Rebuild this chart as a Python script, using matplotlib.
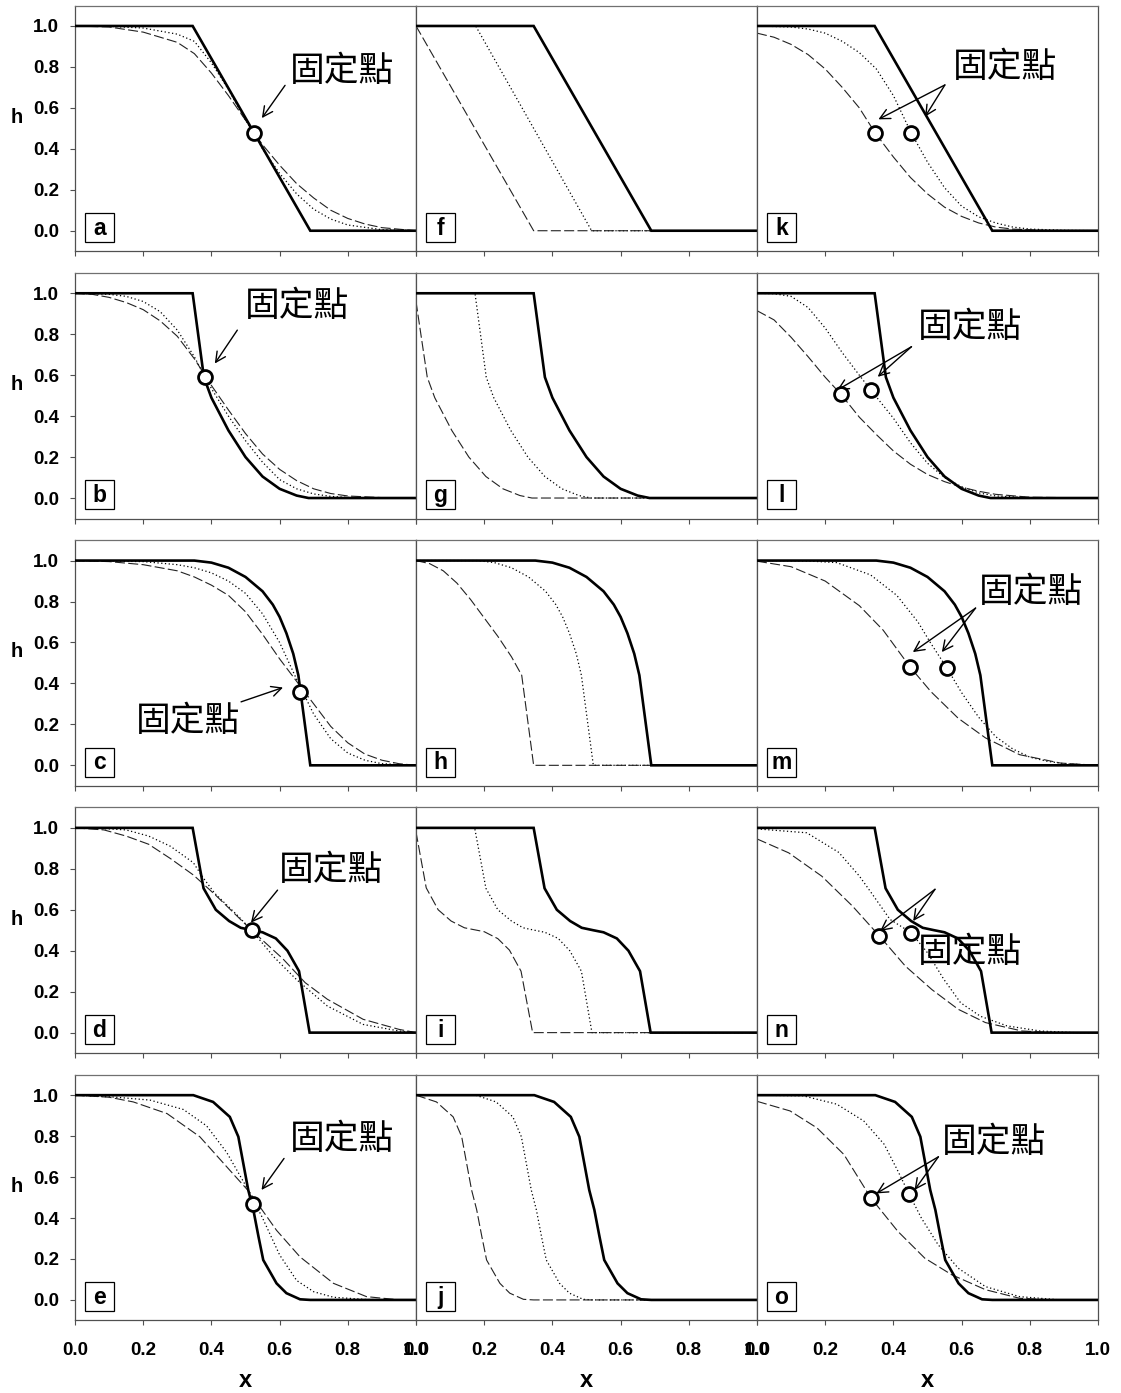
import matplotlib.pyplot as plt
from matplotlib.patches import Rectangle
import numpy as np

plt.rcParams['font.family'] = ['Liberation Sans', 'Noto Sans CJK TC', 'DejaVu Sans']

# ---- curve data, (x, h) pairs ----
# solid curve, one per row (same in all three columns)
solid_1 = [(0, 1), (0.345, 1), (0.69, 0), (1, 0)]
solid_2 = [(0, 1), (0.345, 1), (0.378, 0.59), (0.40, 0.49), (0.45, 0.33), (0.50, 0.20),
           (0.55, 0.105), (0.60, 0.045), (0.65, 0.012), (0.685, 0), (1, 0)]
solid_3 = [(0, 1), (0.35, 1), (0.40, 0.99), (0.45, 0.965), (0.50, 0.92), (0.55, 0.85),
           (0.58, 0.785), (0.60, 0.725), (0.62, 0.645), (0.64, 0.545), (0.655, 0.44),
           (0.69, 0), (1, 0)]
solid_4 = [(0, 1), (0.345, 1), (0.377, 0.705), (0.413, 0.60), (0.452, 0.545), (0.486, 0.512),
           (0.52, 0.50), (0.55, 0.49), (0.589, 0.46), (0.623, 0.40), (0.657, 0.30),
           (0.688, 0), (1, 0)]
solid_5 = [(0, 1), (0.347, 1), (0.405, 0.967), (0.454, 0.894), (0.479, 0.797), (0.508, 0.537),
           (0.523, 0.44), (0.538, 0.31), (0.552, 0.195), (0.591, 0.081), (0.62, 0.033),
           (0.66, 0.003), (0.69, 0), (1, 0)]

# left column
a_dot = [(0, 1), (0.1, 0.998), (0.2, 0.99), (0.3, 0.96), (0.35, 0.925), (0.4, 0.82), (0.45, 0.69),
         (0.5, 0.54), (0.525, 0.477), (0.55, 0.40), (0.6, 0.28), (0.65, 0.18), (0.7, 0.105),
         (0.75, 0.057), (0.8, 0.028), (0.9, 0.005), (1, 0)]
a_dash = [(0, 1), (0.1, 0.995), (0.2, 0.97), (0.3, 0.92), (0.35, 0.865), (0.4, 0.77), (0.45, 0.66),
          (0.5, 0.54), (0.525, 0.477), (0.55, 0.42), (0.6, 0.32), (0.65, 0.23), (0.7, 0.16),
          (0.75, 0.10), (0.8, 0.06), (0.85, 0.033), (0.9, 0.015), (1, 0)]
b_dot = [(0, 1), (0.1, 0.995), (0.15, 0.985), (0.2, 0.96), (0.25, 0.91), (0.3, 0.82), (0.35, 0.69),
         (0.381, 0.592), (0.4, 0.535), (0.45, 0.40), (0.5, 0.28), (0.55, 0.175), (0.6, 0.09),
         (0.65, 0.045), (0.7, 0.02), (0.75, 0.008), (0.8, 0.003), (0.9, 0.001), (1, 0)]
b_dash = [(0, 1), (0.05, 0.995), (0.1, 0.98), (0.15, 0.955), (0.2, 0.92), (0.25, 0.865), (0.3, 0.79),
          (0.35, 0.68), (0.381, 0.6), (0.4, 0.55), (0.45, 0.43), (0.5, 0.315), (0.55, 0.215),
          (0.6, 0.14), (0.65, 0.085), (0.7, 0.045), (0.75, 0.022), (0.8, 0.01), (0.9, 0.002), (1, 0)]
c_dot = [(0, 1), (0.2, 0.995), (0.3, 0.98), (0.35, 0.965), (0.4, 0.94), (0.45, 0.90), (0.5, 0.84),
         (0.55, 0.74), (0.6, 0.60), (0.65, 0.42), (0.7, 0.25), (0.75, 0.13), (0.8, 0.06),
         (0.85, 0.025), (0.9, 0.008), (1, 0)]
c_dash = [(0, 1), (0.1, 0.995), (0.2, 0.98), (0.3, 0.95), (0.35, 0.92), (0.4, 0.88), (0.45, 0.83),
          (0.5, 0.75), (0.55, 0.64), (0.6, 0.52), (0.65, 0.41), (0.7, 0.30), (0.75, 0.19),
          (0.8, 0.11), (0.85, 0.055), (0.9, 0.025), (0.95, 0.008), (1, 0)]
d_dot = [(0, 1), (0.1, 0.995), (0.15, 0.99), (0.216, 0.96), (0.28, 0.91), (0.347, 0.83),
         (0.376, 0.756), (0.41, 0.68), (0.478, 0.57), (0.518, 0.50), (0.583, 0.37), (0.649, 0.26),
         (0.74, 0.13), (0.845, 0.04), (0.95, 0.008), (1, 0)]
d_dash = [(0, 1), (0.085, 0.99), (0.15, 0.96), (0.216, 0.92), (0.28, 0.85), (0.347, 0.77),
          (0.41, 0.675), (0.518, 0.50), (0.61, 0.36), (0.675, 0.244), (0.74, 0.163),
          (0.845, 0.065), (0.95, 0.016), (1, 0)]
e_dot = [(0, 1), (0.12, 0.99), (0.22, 0.976), (0.318, 0.93), (0.386, 0.85), (0.445, 0.72),
         (0.511, 0.528), (0.55, 0.40), (0.6, 0.22), (0.65, 0.095), (0.7, 0.04), (0.758, 0.013),
         (0.855, 0.002), (1, 0)]
e_dash = [(0, 1), (0.1, 0.99), (0.171, 0.967), (0.27, 0.91), (0.366, 0.797), (0.445, 0.65),
          (0.511, 0.528), (0.591, 0.34), (0.66, 0.21), (0.758, 0.081), (0.855, 0.016),
          (0.953, 0), (1, 0)]

# middle column
f_dot = [(0, 1), (0.175, 1), (0.515, 0), (1, 0)]
f_dash = [(0, 1), (0.345, 0), (1, 0)]
g_dot = [(0, 1), (0.173, 1), (0.206, 0.59), (0.228, 0.49), (0.278, 0.33), (0.328, 0.20),
         (0.378, 0.105), (0.428, 0.045), (0.478, 0.012), (0.513, 0), (1, 0)]
g_dash = [(0, 0.96), (0.033, 0.59), (0.055, 0.49), (0.105, 0.33), (0.155, 0.20), (0.205, 0.105),
          (0.255, 0.045), (0.305, 0.012), (0.34, 0), (1, 0)]
h_dot = [(0, 1), (0.18, 1), (0.23, 0.99), (0.28, 0.965), (0.33, 0.92), (0.38, 0.85), (0.41, 0.785),
         (0.43, 0.725), (0.45, 0.645), (0.47, 0.545), (0.485, 0.44), (0.52, 0), (1, 0)]
h_dash = [(0, 1), (0.04, 0.985), (0.08, 0.95), (0.12, 0.89), (0.16, 0.81), (0.2, 0.72),
          (0.24, 0.63), (0.28, 0.53), (0.31, 0.44), (0.345, 0), (1, 0)]
i_dot = [(0, 1), (0.172, 1), (0.205, 0.705), (0.24, 0.60), (0.28, 0.545), (0.314, 0.512),
         (0.348, 0.50), (0.378, 0.49), (0.417, 0.46), (0.451, 0.40), (0.485, 0.30), (0.516, 0),
         (1, 0)]
i_dash = [(0, 0.98), (0.03, 0.707), (0.065, 0.60), (0.103, 0.545), (0.142, 0.512), (0.2, 0.493),
          (0.24, 0.459), (0.274, 0.403), (0.308, 0.30), (0.342, 0), (1, 0)]
j_dot = [(0, 1), (0.175, 1), (0.235, 0.967), (0.284, 0.894), (0.309, 0.797), (0.338, 0.537),
         (0.353, 0.44), (0.368, 0.31), (0.382, 0.195), (0.421, 0.081), (0.45, 0.033),
         (0.49, 0.003), (0.52, 0), (1, 0)]
j_dash = [(0, 1), (0.06, 0.967), (0.109, 0.894), (0.134, 0.797), (0.163, 0.537), (0.178, 0.44),
          (0.193, 0.31), (0.207, 0.195), (0.246, 0.081), (0.275, 0.033), (0.315, 0.003),
          (0.345, 0), (1, 0)]

# right column
k_dot = [(0, 1), (0.1, 0.995), (0.15, 0.985), (0.2, 0.965), (0.25, 0.925), (0.3, 0.87), (0.35, 0.79),
         (0.4, 0.66), (0.452, 0.478), (0.5, 0.335), (0.55, 0.21), (0.6, 0.12), (0.65, 0.068),
         (0.7, 0.038), (0.75, 0.018), (0.8, 0.008), (0.9, 0.002), (1, 0)]
k_dash = [(0, 0.965), (0.05, 0.945), (0.1, 0.91), (0.15, 0.86), (0.2, 0.79), (0.25, 0.70),
          (0.3, 0.60), (0.346, 0.479), (0.4, 0.36), (0.45, 0.26), (0.5, 0.18), (0.55, 0.115),
          (0.6, 0.07), (0.65, 0.038), (0.7, 0.018), (0.75, 0.008), (0.85, 0.001), (1, 0)]
l_dot = [(0, 1), (0.05, 0.998), (0.1, 0.985), (0.15, 0.93), (0.2, 0.83), (0.25, 0.71), (0.3, 0.60),
         (0.334, 0.527), (0.4, 0.39), (0.45, 0.27), (0.5, 0.17), (0.55, 0.10), (0.6, 0.055),
         (0.65, 0.025), (0.7, 0.01), (0.8, 0.002), (1, 0)]
l_dash = [(0, 0.915), (0.05, 0.87), (0.1, 0.785), (0.15, 0.69), (0.2, 0.59), (0.246, 0.507),
          (0.3, 0.395), (0.35, 0.31), (0.4, 0.23), (0.45, 0.165), (0.5, 0.115), (0.55, 0.08),
          (0.6, 0.053), (0.65, 0.033), (0.7, 0.018), (0.8, 0.004), (1, 0)]
m_dot = [(0, 1), (0.15, 0.998), (0.234, 0.99), (0.333, 0.93), (0.41, 0.83), (0.472, 0.70),
         (0.51, 0.595), (0.557, 0.475), (0.6, 0.355), (0.65, 0.235), (0.7, 0.14), (0.75, 0.08),
         (0.8, 0.04), (0.85, 0.02), (0.9, 0.008), (1, 0)]
m_dash = [(0, 0.997), (0.1, 0.97), (0.2, 0.9), (0.3, 0.78), (0.37, 0.66), (0.449, 0.48),
          (0.51, 0.36), (0.59, 0.23), (0.67, 0.134), (0.77, 0.052), (0.89, 0.011), (1, 0)]
n_dot = [(0, 0.995), (0.146, 0.976), (0.24, 0.88), (0.30, 0.765), (0.342, 0.667), (0.39, 0.553),
         (0.452, 0.488), (0.5, 0.39), (0.548, 0.26), (0.597, 0.146), (0.655, 0.08), (0.733, 0.033),
         (0.83, 0.008), (0.93, 0), (1, 0)]
n_dash = [(0, 0.946), (0.093, 0.878), (0.19, 0.764), (0.28, 0.618), (0.359, 0.472), (0.435, 0.325),
          (0.513, 0.21), (0.59, 0.114), (0.67, 0.049), (0.777, 0.008), (0.87, 0), (1, 0)]
o_dot = [(0, 1), (0.135, 0.997), (0.234, 0.956), (0.313, 0.874), (0.373, 0.76), (0.413, 0.63),
         (0.446, 0.517), (0.482, 0.40), (0.531, 0.27), (0.59, 0.155), (0.67, 0.065), (0.77, 0.016),
         (0.89, 0), (1, 0)]
o_dash = [(0, 0.97), (0.097, 0.923), (0.176, 0.84), (0.255, 0.71), (0.334, 0.498), (0.413, 0.335),
          (0.492, 0.204), (0.571, 0.123), (0.67, 0.05), (0.77, 0.008), (0.87, 0), (1, 0)]

# fixed points (circles)
fixed = {
    'a': [(0.525, 0.477)], 'b': [(0.381, 0.592)], 'c': [(0.66, 0.358)],
    'd': [(0.518, 0.50)], 'e': [(0.523, 0.468)],
    'k': [(0.346, 0.479), (0.452, 0.478)], 'l': [(0.246, 0.507), (0.334, 0.527)],
    'm': [(0.449, 0.48), (0.557, 0.475)], 'n': [(0.359, 0.472), (0.452, 0.488)],
    'o': [(0.334, 0.498), (0.446, 0.517)],
}

# annotation: text centre, arrow tail, arrow heads
notes = {
    'a': ((0.784, 0.78), (0.616, 0.71), [(0.548, 0.55)]),
    'b': ((0.65, 0.934), (0.476, 0.82), [(0.41, 0.657)]),
    'c': ((0.331, 0.216), (0.487, 0.31), [(0.61, 0.38)]),
    'd': ((0.752, 0.793), (0.594, 0.696), [(0.516, 0.537)]),
    'e': ((0.784, 0.784), (0.613, 0.691), [(0.547, 0.537)]),
    'k': ((0.727, 0.797), (0.551, 0.712), [(0.356, 0.544), (0.493, 0.557)]),
    'l': ((0.626, 0.833), (0.453, 0.739), [(0.235, 0.527), (0.354, 0.592)]),
    'm': ((0.804, 0.846), (0.641, 0.768), [(0.457, 0.553), (0.542, 0.553)]),
    'n': ((0.625, 0.39), (0.522, 0.70), [(0.361, 0.496), (0.458, 0.545)]),
    'o': ((0.695, 0.768), (0.532, 0.699), [(0.35, 0.52), (0.462, 0.537)]),
}

solids = [solid_1, solid_2, solid_3, solid_4, solid_5]
dots = [[a_dot, f_dot, k_dot], [b_dot, g_dot, l_dot], [c_dot, h_dot, m_dot],
        [d_dot, i_dot, n_dot], [e_dot, j_dot, o_dot]]
dashes = [[a_dash, f_dash, k_dash], [b_dash, g_dash, l_dash], [c_dash, h_dash, m_dash],
          [d_dash, i_dash, n_dash], [e_dash, j_dash, o_dash]]
letters = [['a', 'f', 'k'], ['b', 'g', 'l'], ['c', 'h', 'm'], ['d', 'i', 'n'], ['e', 'j', 'o']]
xticks = [0.0, 0.2, 0.4, 0.6, 0.8, 1.0]
yticks = [0.0, 0.2, 0.4, 0.6, 0.8, 1.0]

W, H = 1121, 1393
fig = plt.figure(figsize=(W / 100, H / 100), dpi=100)
spine_c = '#505050'

for r in range(5):
    for c in range(3):
        left = (75 + 341 * c) / W
        bottom = 1 - (5.5 + 267.3 * r + 245.7) / H
        ax = fig.add_axes([left, bottom, 341 / W, 245.7 / H])
        ax.set_xlim(0, 1)
        ax.set_ylim(-0.1, 1.1)
        for s in ax.spines.values():
            s.set_color(spine_c)
            s.set_linewidth(0.9)
        ax.spines['top'].set_color('#707070')

        xs, ys = zip(*solids[r])
        ax.plot(xs, ys, color='k', lw=1.9, solid_joinstyle='miter', zorder=3)
        xs, ys = zip(*dots[r][c])
        ax.plot(xs, ys, color='k', lw=0.9, ls=(0, (1, 2)), zorder=2)
        xs, ys = zip(*dashes[r][c])
        ax.plot(xs, ys, color='#222222', lw=0.8, ls=(0, (9, 3)), zorder=2)

        lt = letters[r][c]
        ax.set_xticks(xticks)
        ax.tick_params(axis='both', direction='out', length=3.5, width=0.8,
                       colors=spine_c, labelcolor='k', labelsize=13.5)
        if r == 4:
            ax.set_xticklabels([f'{v:.1f}' for v in xticks], fontweight='bold')
            ax.tick_params(axis='x', pad=12)
            ax.text(0.5, -0.243, 'x', transform=ax.transAxes, ha='center', va='center',
                    fontsize=17, fontweight='bold')
        else:
            ax.set_xticklabels([])
        if c == 0:
            ax.set_yticks(yticks)
            ax.set_yticklabels([f'{v:.1f}' for v in yticks], fontweight='bold')
            ax.tick_params(axis='y', pad=8)
            ax.text(-0.171, 0.545, 'h', transform=ax.transAxes, ha='center', va='center',
                    fontsize=14.5, fontweight='bold')
        else:
            ax.set_yticks([])

        # panel letter box
        ax.add_patch(Rectangle((0.029, 0.037), 0.085, 0.118, transform=ax.transAxes,
                               facecolor='white', edgecolor='k', lw=0.9, zorder=5))
        ax.text(0.0715, 0.093, lt, transform=ax.transAxes, ha='center', va='center',
                fontsize=16.5, fontweight='bold', zorder=6)

        if lt in notes:
            (tx, ty), tail, heads = notes[lt]
            ax.text(tx, ty, '固定點', ha='center', va='center', fontsize=25,
                    family=['Noto Sans CJK TC', 'DejaVu Sans'], fontweight='light', zorder=4)
            for hd in heads:
                ax.annotate('', xy=hd, xytext=tail,
                            arrowprops=dict(arrowstyle='->', lw=1.0, color='k',
                                            shrinkA=0, shrinkB=0, mutation_scale=18),
                            zorder=4)
            px, py = zip(*fixed[lt])
            ax.plot(px, py, 'o', ms=10, mfc='white', mec='k', mew=2, zorder=7)

fig.savefig('out.png', dpi=100)
